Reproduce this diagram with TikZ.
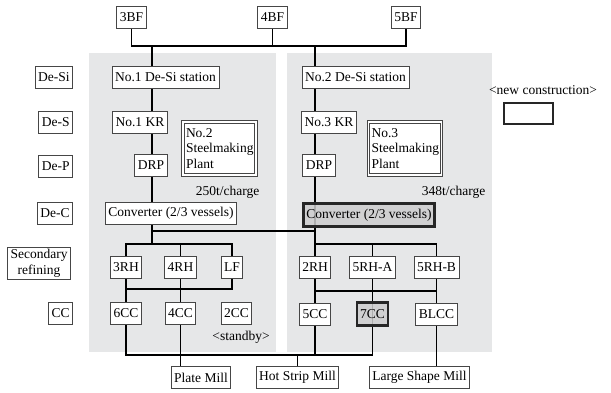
\documentclass[tikz,border=0pt]{standalone}
\usepackage{fontspec}
\setmainfont{Liberation Serif}
\usetikzlibrary{backgrounds}
\definecolor{panelgray}{RGB}{230,231,232}
\definecolor{newgray}{RGB}{205,205,205}
\definecolor{boxline}{RGB}{70,70,70}
\tikzset{
    every node/.style={font=\fontsize{13.5}{15.5}\selectfont},
    box/.style={draw=boxline,line width=0.8pt,fill=white,minimum height=22pt,inner xsep=3pt,inner ysep=2pt},
    newbox/.style={draw=black!85,line width=2.4pt,fill=newgray,fill opacity=0.85,text opacity=1,minimum height=23pt,inner xsep=3pt},
    plantbox/.style={draw=boxline,double=white,double distance=1.6pt,line width=1.1pt,fill=white,
        align=left,text width=67pt,inner sep=3pt,minimum height=53pt},
    link/.style={line width=1.3pt,draw=black},
    panel/.style={fill=panelgray}
}
\begin{document}
\begin{tikzpicture}[x=1pt,y=-1pt]
  \useasboundingbox (0,0) rectangle (611,392);

  % blast furnaces
  \node[box] (bf3) at (131.5,17) {3BF};
  \node[box] (bf4) at (272.5,17) {4BF};
  \node[box] (bf5) at (406,17) {5BF};

  % process labels
  \node[box,anchor=east] (lsi) at (73,77) {De-Si};
  \node[box,anchor=east] (ls) at (73,122) {De-S};
  \node[box,anchor=east] (lp) at (73,166) {De-P};
  \node[box,anchor=east] (lc) at (73,213.5) {De-C};
  \node[box,anchor=east,align=center,text width=57pt,inner xsep=3pt] (lsec) at (71,263.5) {Secondary\\refining};
  \node[box,anchor=east] (lcc) at (73,313.5) {CC};

  % No.2 steelmaking plant
  \node[box] (desi1) at (165.5,77) {No.1 De-Si station};
  \node[box] (kr1) at (140,122) {No.1 KR};
  \node[box] (drp1) at (151,165.5) {DRP};
  \node[plantbox] (plant2) at (219.5,148.5) {No.2\\Steelmaking\\Plant};
  \node[anchor=east] (cap1) at (263,192) {250t/charge};
  \node[box] (conv1) at (171,213.5) {Converter (2/3 vessels)};
  \node[box] (rh3) at (126,267) {3RH};
  \node[box] (rh4) at (180.5,267) {4RH};
  \node[box] (lf) at (232,267) {LF};
  \node[box] (cc6) at (126,313.5) {6CC};
  \node[box] (cc4) at (180.5,313.5) {4CC};
  \node[box] (cc2) at (236.5,313.5) {2CC};
  \node (standby) at (241,337) {<standby>};

  % No.3 steelmaking plant
  \node[box] (desi2) at (355.5,77) {No.2 De-Si station};
  \node[box] (kr3) at (329,122) {No.3 KR};
  \node[box] (drp2) at (319,165.5) {DRP};
  \node[plantbox] (plant3) at (405,148.5) {No.3\\Steelmaking\\Plant};
  \node[anchor=east] (cap2) at (489,192) {348t/charge};
  \node[newbox] (conv2) at (369,215) {Converter (2/3 vessels)};
  \node[box] (rh2) at (315,267.5) {2RH};
  \node[box] (rh5a) at (372.5,267.5) {5RH-A};
  \node[box] (rh5b) at (436.5,267.5) {5RH-B};
  \node[box] (cc5) at (315,314) {5CC};
  \node[newbox] (cc7) at (372.5,314) {7CC};
  \node[box] (blcc) at (436.5,314) {BLCC};

  % mills
  \node[box] (plate) at (201,377.5) {Plate Mill};
  \node[box] (hsm) at (297.5,377.5) {Hot Strip Mill};
  \node[box] (lsm) at (419.5,377.5) {Large Shape Mill};

  % legend
  \node (newlab) at (543,90) {<new construction>};
  \node[draw=black!85,line width=2.4pt,fill=white,minimum width=49pt,minimum height=21pt] (newkey) at (528.5,113.5) {};

  % junctions
  \coordinate (spl) at (152,46);
  \coordinate (spr) at (315,46);
  \coordinate (cross) at (0,231);
  \coordinate (secb) at (0,244);
  \coordinate (midl) at (0,289);
  \coordinate (midr) at (0,291);
  \coordinate (bot) at (0,355);

  \begin{pgfonlayer}{background}
    \fill[panel] (89,53) rectangle (276,352);
    \fill[panel] (287,53) rectangle (492,352);

    \draw[link] (bf3) |- (bf5.center |- spl) -- (bf5);
    \draw[link] (bf4) -- (bf4 |- spl);
    \draw[link] (spl) -- (spl |- secb);
    \draw[link] (spr) -- (spr |- secb);
    \draw[link] (spl |- cross) -- (spr |- cross);

    % secondary refining and casting, left
    \draw[link] (rh3.center) |- (lf.center |- secb) -- (lf.center);
    \draw[link] (rh4.center) -- (rh4.center |- secb);
    \draw[link] (rh3.center) |- (lf.center |- midl) -- (lf.center);
    \draw[link] (rh3.center) -- (cc6.center);
    \draw[link] (rh4.center) -- (cc4.center);
    \draw[link] (cc4.center) -- (cc4.center |- plate);
    \draw[link] (cc6.center) |- (cc7.center |- bot) -- (cc7.center);
    \draw[link] (hsm.center) -- (hsm.center |- bot);

    % secondary refining and casting, right
    \draw[link] (rh2.center) |- (rh5b.center |- secb) -- (rh5b.center);
    \draw[link] (rh5a.center) -- (rh5a.center |- secb);
    \draw[link] (rh2.center) |- (rh5b.center |- midr) -- (rh5b.center);
    \draw[link] (rh2.center) -- (cc5.center);
    \draw[link] (rh5a.center) -- (cc7.center);
    \draw[link] (rh5b.center) -- (blcc.center);
    \draw[link] (cc5.center) -- (cc5.center |- bot);
    \draw[link] (blcc.center) -- (blcc.center |- lsm);
  \end{pgfonlayer}
\end{tikzpicture}
\end{document}
